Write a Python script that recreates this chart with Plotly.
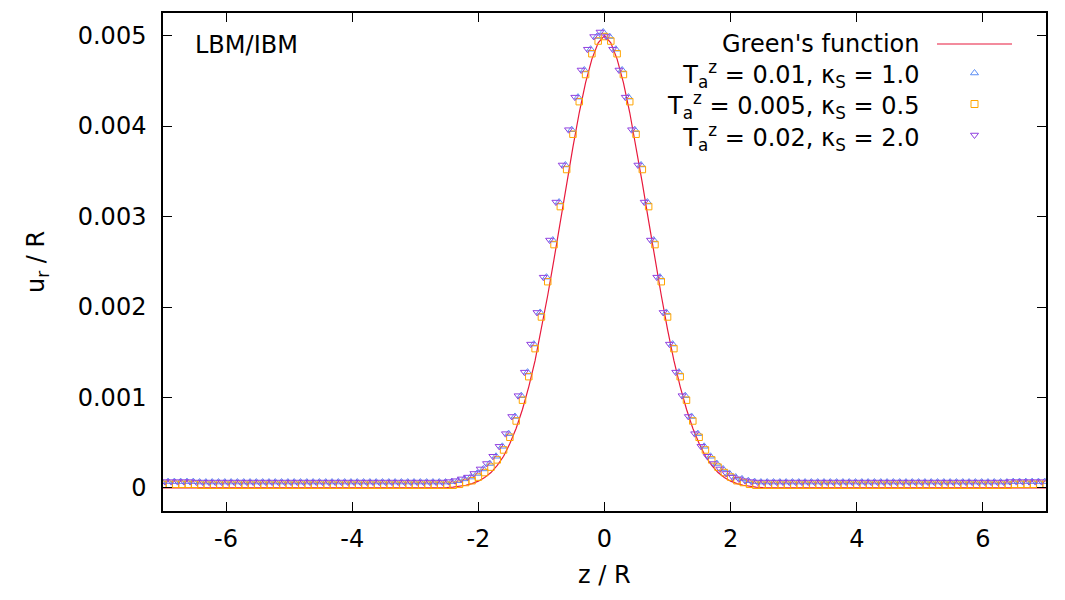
import numpy as np
import plotly.graph_objects as go

# ---------------- data ----------------
# simulation grid z/R from -7 to 7, step 0.1 (141 points)
z_sim = np.round(np.linspace(-7.0, 7.0, 141), 2)

# LBM/IBM, Ta^z = 0.005, kappa_S = 0.5 (orange squares)
u_k05 = [
    4e-5, 4e-5, 4e-5, 4e-5, 4e-5, 4e-5,
    3e-5, 3e-5, 3e-5, 3e-5, 3e-5, 3e-5, 3e-5, 3e-5, 3e-5, 3e-5,
    3e-5, 3e-5, 3e-5, 3e-5, 3e-5, 3e-5, 3e-5, 3e-5, 3e-5, 3e-5,
    3e-5, 3e-5, 3e-5, 3e-5, 3e-5, 3e-5, 3e-5, 3e-5, 3e-5, 3e-5,
    3e-5, 3e-5, 3e-5, 3e-5, 3e-5, 3e-5, 3e-5, 3e-5, 3e-5, 3e-5,
    3e-5, 4e-5, 6e-5, 8e-5, 1.2e-4, 1.7e-4, 2.3e-4, 3.1e-4, 4.2e-4, 5.6e-4,
    7.4e-4, 9.7e-4, 1.23e-3, 1.54e-3, 1.89e-3, 2.28e-3, 2.69e-3, 3.11e-3, 3.52e-3, 3.91e-3,
    4.27e-3, 4.57e-3, 4.80e-3, 4.94e-3,
    4.99e-3,
    4.94e-3, 4.80e-3, 4.57e-3, 4.27e-3,
    3.91e-3, 3.52e-3, 3.11e-3, 2.69e-3, 2.28e-3, 1.89e-3, 1.54e-3, 1.23e-3, 9.7e-4, 7.4e-4,
    5.6e-4, 4.2e-4, 3.1e-4, 2.3e-4, 1.7e-4, 1.2e-4, 8e-5, 6e-5, 4e-5, 3e-5,
    3e-5, 3e-5, 3e-5, 3e-5, 3e-5, 3e-5, 3e-5, 3e-5, 3e-5, 3e-5,
    3e-5, 3e-5, 3e-5, 3e-5, 3e-5, 3e-5, 3e-5, 3e-5, 3e-5, 3e-5,
    3e-5, 3e-5, 3e-5, 3e-5, 3e-5, 3e-5, 3e-5, 3e-5, 3e-5, 3e-5,
    3e-5, 3e-5, 3e-5, 3e-5, 3e-5, 3e-5, 3e-5, 3e-5, 3e-5, 3e-5,
    4e-5, 4e-5, 4e-5, 4e-5, 4e-5, 4e-5,
]

# LBM/IBM, Ta^z = 0.01, kappa_S = 1.0 (blue up-triangles)
u_k10 = [
    7e-5, 7e-5, 7e-5, 7e-5, 7e-5, 7e-5,
    6.5e-5, 6.5e-5, 6.5e-5, 6.5e-5, 6.5e-5, 6.5e-5, 6.5e-5, 6.5e-5, 6.5e-5, 6.5e-5,
    6.5e-5, 6.5e-5, 6.5e-5, 6.5e-5, 6.5e-5, 6.5e-5, 6.5e-5, 6.5e-5, 6.5e-5, 6.5e-5,
    6.5e-5, 6.5e-5, 6.5e-5, 6.5e-5, 6.5e-5, 6.5e-5, 6.5e-5, 6.5e-5, 6.5e-5, 6.5e-5,
    6.5e-5, 6.5e-5, 6.5e-5, 6.5e-5, 6.5e-5, 6.5e-5, 6.5e-5, 6.5e-5, 6.5e-5, 6.5e-5,
    7e-5, 8e-5, 1.0e-4, 1.2e-4, 1.6e-4, 2.1e-4, 2.7e-4, 3.5e-4, 4.6e-4, 6.0e-4,
    7.9e-4, 1.02e-3, 1.28e-3, 1.59e-3, 1.94e-3, 2.33e-3, 2.74e-3, 3.16e-3, 3.57e-3, 3.96e-3,
    4.32e-3, 4.62e-3, 4.85e-3, 4.99e-3,
    5.04e-3,
    4.99e-3, 4.85e-3, 4.62e-3, 4.32e-3,
    3.96e-3, 3.57e-3, 3.16e-3, 2.74e-3, 2.33e-3, 1.94e-3, 1.59e-3, 1.28e-3, 1.02e-3, 7.9e-4,
    6.0e-4, 4.6e-4, 3.5e-4, 2.7e-4, 2.1e-4, 1.6e-4, 1.2e-4, 1.0e-4, 8e-5, 7e-5,
    6.5e-5, 6.5e-5, 6.5e-5, 6.5e-5, 6.5e-5, 6.5e-5, 6.5e-5, 6.5e-5, 6.5e-5, 6.5e-5,
    6.5e-5, 6.5e-5, 6.5e-5, 6.5e-5, 6.5e-5, 6.5e-5, 6.5e-5, 6.5e-5, 6.5e-5, 6.5e-5,
    6.5e-5, 6.5e-5, 6.5e-5, 6.5e-5, 6.5e-5, 6.5e-5, 6.5e-5, 6.5e-5, 6.5e-5, 6.5e-5,
    6.5e-5, 6.5e-5, 6.5e-5, 6.5e-5, 6.5e-5, 6.5e-5, 6.5e-5, 6.5e-5, 6.5e-5, 6.5e-5,
    7e-5, 7e-5, 7e-5, 7e-5, 7e-5, 7e-5,
]

# LBM/IBM, Ta^z = 0.02, kappa_S = 2.0 (purple down-triangles), read at z - 0.07
z_shift_k20 = -0.07
z_shift_k10 = -0.02
u_k20 = list(u_k10)

# Green's function (analytic line)
z_green = [-7.0, -3.0, -2.9, -2.8, -2.7, -2.6, -2.5, -2.4, -2.3, -2.2, -2.1, -2.0,
           -1.9, -1.8, -1.7, -1.6, -1.5, -1.4, -1.3, -1.2, -1.1, -1.0,
           -0.9, -0.8, -0.7, -0.6, -0.5, -0.4, -0.3, -0.2, -0.1, 0.0,
           0.1, 0.2, 0.3, 0.4, 0.5, 0.6, 0.7, 0.8, 0.9, 1.0,
           1.1, 1.2, 1.3, 1.4, 1.5, 1.6, 1.7, 1.8, 1.9, 2.0,
           2.1, 2.2, 2.3, 2.4, 2.5, 2.6, 2.7, 2.8, 2.9, 3.0, 7.0]
u_green = [0.0, 0.0, 0.0, 0.0, 0.0, 2e-6, 5e-6, 1.0e-5, 1.8e-5, 3.0e-5, 4.8e-5, 7.5e-5,
           1.15e-4, 1.7e-4, 2.5e-4, 3.5e-4, 4.9e-4, 6.6e-4, 8.7e-4, 1.12e-3, 1.41e-3, 1.75e-3,
           2.13e-3, 2.53e-3, 2.95e-3, 3.37e-3, 3.77e-3, 4.15e-3, 4.48e-3, 4.74e-3, 4.92e-3, 5.00e-3,
           4.92e-3, 4.74e-3, 4.48e-3, 4.15e-3, 3.77e-3, 3.37e-3, 2.95e-3, 2.53e-3, 2.13e-3, 1.75e-3,
           1.41e-3, 1.12e-3, 8.7e-4, 6.6e-4, 4.9e-4, 3.5e-4, 2.5e-4, 1.7e-4, 1.15e-4, 7.5e-5,
           4.8e-5, 3.0e-5, 1.8e-5, 1.0e-5, 5e-6, 2e-6, 0.0, 0.0, 0.0, 0.0, 0.0]

x_ticks = [-6, -4, -2, 0, 2, 4, 6]
x_ticktext = ["-6", "-4", "-2", "0", "2", "4", "6"]
y_ticks = [0, 0.001, 0.002, 0.003, 0.004, 0.005]
y_ticktext = ["0", "0.001", "0.002", "0.003", "0.004", "0.005"]

legend_labels = [
    "Green's function",
    "T<sub>a</sub><sup>z</sup> = 0.01, κ<sub>S</sub> = 1.0",
    "T<sub>a</sub><sup>z</sup> = 0.005, κ<sub>S</sub> = 0.5",
    "T<sub>a</sub><sup>z</sup> = 0.02, κ<sub>S</sub> = 2.0",
]

# ---------------- styling ----------------
FONT = "DejaVu Sans"
FS = 24
C_RED = "#e8193c"
C_BLUE = "#5b8ef5"
C_ORANGE = "#ffa500"
C_PURPLE = "#9040e0"
MS = 7

W, H = 1065, 600
L, R, T, B = 163, 19, 13, 89
PW, PH = W - L - R, H - T - B

def px(xpix):
    return (xpix - L) / PW

def py(ypix):
    return (H - B - ypix) / PH

fig = go.Figure()

fig.add_trace(go.Scatter(x=z_green, y=u_green, mode="lines",
                         line=dict(color=C_RED, width=1.2), showlegend=False))
fig.add_trace(go.Scatter(x=z_sim + z_shift_k10, y=u_k10, mode="markers",
                         marker=dict(symbol="triangle-up-open", size=MS, color=C_BLUE,
                                     line=dict(width=1, color=C_BLUE)), showlegend=False))
fig.add_trace(go.Scatter(x=z_sim, y=u_k05, mode="markers",
                         marker=dict(symbol="square-open", size=MS - 0.5, color=C_ORANGE,
                                     line=dict(width=1, color=C_ORANGE)), showlegend=False))
fig.add_trace(go.Scatter(x=z_sim + z_shift_k20, y=u_k20, mode="markers",
                         marker=dict(symbol="triangle-down-open", size=MS, color=C_PURPLE,
                                     line=dict(width=1, color=C_PURPLE)), showlegend=False))

# key samples (gnuplot style: sample to the right of the text)
row_y = [44, 73, 104, 135]
fig.add_trace(go.Scatter(x=[px(937), px(1012)], y=[py(row_y[0])] * 2, mode="lines",
                         xaxis="x2", yaxis="y2", line=dict(color=C_RED, width=1.2),
                         showlegend=False, hoverinfo="skip"))
for yy, sym, col in [(row_y[1], "triangle-up-open", C_BLUE),
                     (row_y[2], "square-open", C_ORANGE),
                     (row_y[3], "triangle-down-open", C_PURPLE)]:
    fig.add_trace(go.Scatter(x=[px(974.5)], y=[py(yy)], mode="markers",
                             xaxis="x2", yaxis="y2",
                             marker=dict(symbol=sym, size=MS, color=col,
                                         line=dict(width=1, color=col)),
                             showlegend=False, hoverinfo="skip"))

annotations = []
# key text: one right-aligned multi-line block
annotations.append(dict(text="<br>".join(legend_labels), x=px(921), y=py(92.5), xref="paper",
                        yref="paper", xanchor="right", yanchor="middle", align="right",
                        showarrow=False, font=dict(family=FONT, size=FS, color="black")))
annotations.append(dict(text="LBM/IBM", x=px(193), y=py(45), xref="paper", yref="paper",
                        xanchor="left", yanchor="middle", showarrow=False,
                        font=dict(family=FONT, size=FS, color="black")))
annotations.append(dict(text="u<sub>r</sub> / R", x=px(37), y=py(262), xref="paper", yref="paper",
                        xanchor="center", yanchor="middle", showarrow=False, textangle=-90,
                        font=dict(family=FONT, size=FS, color="black")))
annotations.append(dict(text="z / R", x=px(604), y=py(575), xref="paper", yref="paper",
                        xanchor="center", yanchor="middle", showarrow=False,
                        font=dict(family=FONT, size=FS, color="black")))

axis_common = dict(showgrid=False, zeroline=False, showline=True, linecolor="black",
                   linewidth=1.5, mirror="allticks", ticks="inside", ticklen=9,
                   tickwidth=1, tickcolor="black",
                   tickfont=dict(family=FONT, size=FS, color="black"))

fig.update_layout(
    width=W, height=H,
    margin=dict(l=L, r=R, t=T, b=B, pad=0),
    paper_bgcolor="white", plot_bgcolor="white",
    xaxis=dict(range=[-7, 7], tickvals=x_ticks, ticktext=x_ticktext,
               ticklabelstandoff=5, **axis_common),
    yaxis=dict(range=[-0.000255, 0.00525], tickvals=y_ticks, ticktext=y_ticktext,
               ticklabelstandoff=10, **axis_common),
    xaxis2=dict(range=[0, 1], overlaying="x", visible=False, anchor="y2"),
    yaxis2=dict(range=[0, 1], overlaying="y", visible=False, anchor="x2"),
    annotations=annotations,
    showlegend=False,
)

fig.write_html("out.html")
